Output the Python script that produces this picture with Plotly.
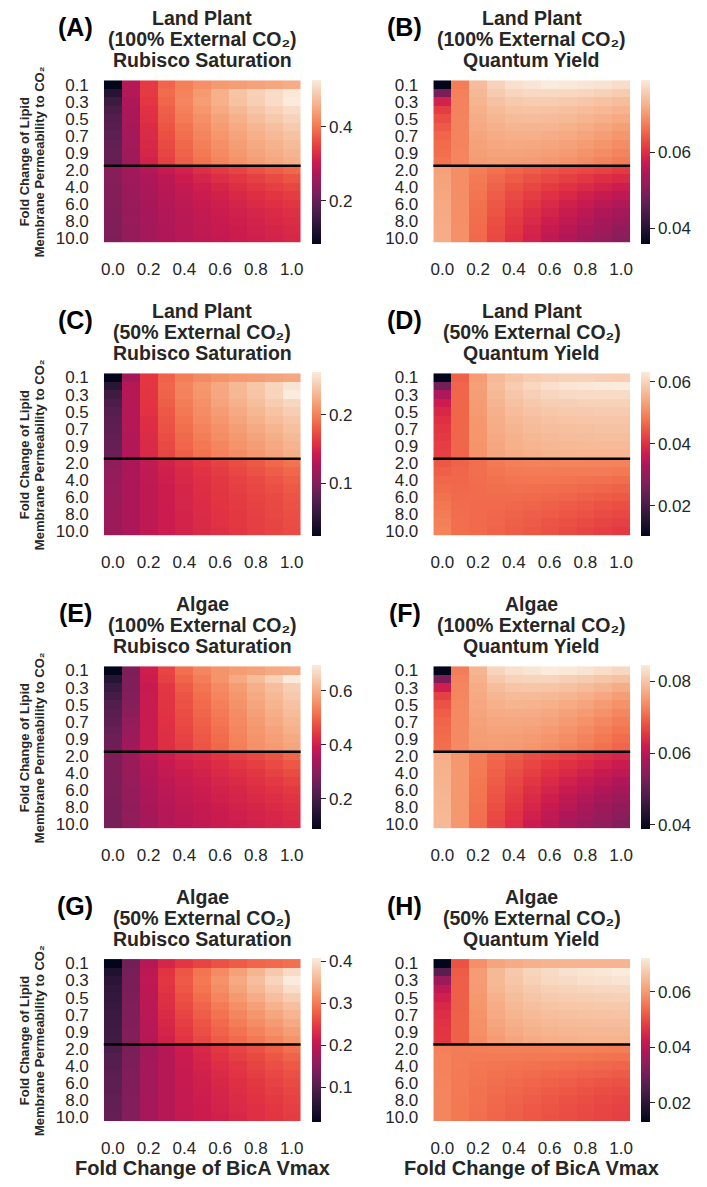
import plotly.graph_objects as go

# ---------------------------------------------------------------- data
bica_vmax = ["0.0", "0.1", "0.2", "0.3", "0.4", "0.5", "0.6", "0.7", "0.8", "0.9", "1.0"]
permeability = ["0.1", "0.2", "0.3", "0.4", "0.5", "0.6", "0.7", "0.8", "0.9", "1.0",
                "2.0", "3.0", "4.0", "5.0", "6.0", "7.0", "8.0", "9.0", "10.0"]
x_tick_labels = ["0.0", "0.2", "0.4", "0.6", "0.8", "1.0"]
y_tick_labels = ["0.1", "0.3", "0.5", "0.7", "0.9", "2.0", "4.0", "6.0", "8.0", "10.0"]

land_100_rubisco = [
    [0.084, 0.280, 0.345, 0.385, 0.410, 0.425, 0.435, 0.440, 0.445, 0.450, 0.456],
    [0.128, 0.280, 0.345, 0.390, 0.412, 0.435, 0.460, 0.483, 0.497, 0.510, 0.523],
    [0.155, 0.275, 0.340, 0.385, 0.415, 0.440, 0.460, 0.480, 0.495, 0.510, 0.527],
    [0.170, 0.272, 0.335, 0.380, 0.410, 0.432, 0.452, 0.470, 0.485, 0.498, 0.510],
    [0.180, 0.270, 0.332, 0.375, 0.405, 0.425, 0.445, 0.460, 0.475, 0.488, 0.500],
    [0.186, 0.268, 0.328, 0.370, 0.398, 0.420, 0.438, 0.452, 0.466, 0.478, 0.490],
    [0.190, 0.266, 0.325, 0.365, 0.393, 0.414, 0.432, 0.446, 0.459, 0.470, 0.480],
    [0.195, 0.264, 0.322, 0.360, 0.388, 0.408, 0.425, 0.440, 0.452, 0.462, 0.472],
    [0.198, 0.262, 0.318, 0.355, 0.383, 0.403, 0.420, 0.434, 0.446, 0.456, 0.465],
    [0.200, 0.260, 0.315, 0.350, 0.378, 0.398, 0.414, 0.428, 0.440, 0.450, 0.458],
    [0.235, 0.262, 0.280, 0.300, 0.315, 0.330, 0.343, 0.355, 0.367, 0.378, 0.388],
    [0.233, 0.258, 0.275, 0.290, 0.305, 0.318, 0.330, 0.340, 0.350, 0.360, 0.370],
    [0.231, 0.255, 0.272, 0.286, 0.298, 0.310, 0.320, 0.330, 0.340, 0.348, 0.356],
    [0.230, 0.253, 0.270, 0.283, 0.294, 0.305, 0.314, 0.322, 0.331, 0.339, 0.346],
    [0.229, 0.252, 0.268, 0.281, 0.291, 0.300, 0.309, 0.317, 0.325, 0.332, 0.339],
    [0.228, 0.251, 0.267, 0.279, 0.289, 0.298, 0.306, 0.313, 0.320, 0.327, 0.333],
    [0.227, 0.250, 0.266, 0.278, 0.287, 0.296, 0.303, 0.310, 0.316, 0.322, 0.328],
    [0.226, 0.249, 0.265, 0.277, 0.286, 0.294, 0.301, 0.307, 0.313, 0.319, 0.324],
    [0.225, 0.248, 0.264, 0.276, 0.285, 0.293, 0.299, 0.305, 0.311, 0.316, 0.321],
]

land_100_quantum = [
    [0.0360, 0.0674, 0.0738, 0.0764, 0.0777, 0.0784, 0.0790, 0.0787, 0.0784, 0.0780, 0.0775],
    [0.0493, 0.0678, 0.0734, 0.0755, 0.0766, 0.0770, 0.0771, 0.0769, 0.0766, 0.0762, 0.0757],
    [0.0584, 0.0680, 0.0730, 0.0745, 0.0753, 0.0756, 0.0756, 0.0753, 0.0749, 0.0744, 0.0739],
    [0.0614, 0.0680, 0.0725, 0.0737, 0.0744, 0.0746, 0.0745, 0.0742, 0.0738, 0.0733, 0.0727],
    [0.0631, 0.0681, 0.0721, 0.0731, 0.0736, 0.0738, 0.0737, 0.0734, 0.0729, 0.0723, 0.0717],
    [0.0643, 0.0681, 0.0717, 0.0725, 0.0729, 0.0730, 0.0729, 0.0725, 0.0720, 0.0714, 0.0707],
    [0.0652, 0.0681, 0.0713, 0.0720, 0.0723, 0.0723, 0.0721, 0.0717, 0.0712, 0.0705, 0.0698],
    [0.0657, 0.0681, 0.0710, 0.0715, 0.0717, 0.0716, 0.0714, 0.0710, 0.0704, 0.0697, 0.0689],
    [0.0661, 0.0682, 0.0707, 0.0711, 0.0711, 0.0710, 0.0707, 0.0702, 0.0696, 0.0689, 0.0681],
    [0.0665, 0.0682, 0.0704, 0.0707, 0.0706, 0.0704, 0.0700, 0.0695, 0.0689, 0.0681, 0.0672],
    [0.0708, 0.0690, 0.0675, 0.0663, 0.0653, 0.0645, 0.0638, 0.0631, 0.0625, 0.0619, 0.0612],
    [0.0711, 0.0690, 0.0671, 0.0656, 0.0644, 0.0634, 0.0625, 0.0616, 0.0608, 0.0600, 0.0593],
    [0.0713, 0.0690, 0.0668, 0.0650, 0.0636, 0.0624, 0.0613, 0.0603, 0.0594, 0.0585, 0.0577],
    [0.0715, 0.0690, 0.0665, 0.0645, 0.0629, 0.0615, 0.0603, 0.0592, 0.0581, 0.0571, 0.0562],
    [0.0717, 0.0691, 0.0663, 0.0641, 0.0623, 0.0607, 0.0594, 0.0581, 0.0570, 0.0559, 0.0549],
    [0.0718, 0.0691, 0.0661, 0.0637, 0.0617, 0.0600, 0.0586, 0.0572, 0.0560, 0.0548, 0.0537],
    [0.0719, 0.0691, 0.0659, 0.0633, 0.0612, 0.0594, 0.0578, 0.0564, 0.0551, 0.0538, 0.0527],
    [0.0720, 0.0692, 0.0657, 0.0630, 0.0607, 0.0588, 0.0571, 0.0556, 0.0542, 0.0529, 0.0517],
    [0.0721, 0.0692, 0.0656, 0.0627, 0.0603, 0.0583, 0.0565, 0.0549, 0.0534, 0.0521, 0.0509],
]

land_50_rubisco = [
    [0.022, 0.120, 0.161, 0.183, 0.197, 0.204, 0.209, 0.213, 0.215, 0.218, 0.220],
    [0.048, 0.130, 0.161, 0.185, 0.201, 0.212, 0.221, 0.231, 0.240, 0.249, 0.258],
    [0.063, 0.130, 0.160, 0.184, 0.200, 0.210, 0.220, 0.230, 0.238, 0.248, 0.262],
    [0.070, 0.130, 0.159, 0.182, 0.197, 0.208, 0.218, 0.226, 0.234, 0.243, 0.250],
    [0.075, 0.129, 0.158, 0.179, 0.195, 0.206, 0.214, 0.222, 0.230, 0.237, 0.244],
    [0.079, 0.129, 0.156, 0.177, 0.192, 0.203, 0.211, 0.219, 0.226, 0.233, 0.239],
    [0.081, 0.129, 0.155, 0.175, 0.190, 0.200, 0.208, 0.215, 0.222, 0.228, 0.235],
    [0.083, 0.128, 0.154, 0.173, 0.187, 0.197, 0.205, 0.212, 0.218, 0.224, 0.231],
    [0.085, 0.128, 0.153, 0.171, 0.185, 0.194, 0.202, 0.209, 0.215, 0.221, 0.227],
    [0.087, 0.128, 0.152, 0.169, 0.182, 0.192, 0.200, 0.206, 0.212, 0.218, 0.224],
    [0.108, 0.123, 0.137, 0.147, 0.154, 0.161, 0.167, 0.173, 0.179, 0.186, 0.192],
    [0.110, 0.123, 0.136, 0.145, 0.152, 0.158, 0.164, 0.170, 0.175, 0.181, 0.186],
    [0.111, 0.123, 0.136, 0.144, 0.151, 0.157, 0.162, 0.167, 0.172, 0.177, 0.182],
    [0.112, 0.123, 0.135, 0.143, 0.150, 0.156, 0.161, 0.165, 0.170, 0.174, 0.179],
    [0.113, 0.123, 0.135, 0.143, 0.149, 0.155, 0.160, 0.164, 0.168, 0.172, 0.177],
    [0.114, 0.123, 0.135, 0.142, 0.149, 0.154, 0.159, 0.163, 0.167, 0.171, 0.175],
    [0.115, 0.123, 0.135, 0.142, 0.148, 0.154, 0.158, 0.162, 0.166, 0.170, 0.174],
    [0.115, 0.123, 0.135, 0.142, 0.148, 0.153, 0.158, 0.162, 0.165, 0.169, 0.173],
    [0.116, 0.123, 0.135, 0.142, 0.148, 0.153, 0.157, 0.161, 0.165, 0.168, 0.172],
]

land_50_quantum = [
    [0.0100, 0.0455, 0.0524, 0.0561, 0.0577, 0.0588, 0.0593, 0.0595, 0.0595, 0.0593, 0.0590],
    [0.0254, 0.0460, 0.0529, 0.0566, 0.0588, 0.0604, 0.0614, 0.0622, 0.0625, 0.0628, 0.0630],
    [0.0328, 0.0461, 0.0527, 0.0561, 0.0580, 0.0593, 0.0601, 0.0606, 0.0609, 0.0609, 0.0609],
    [0.0365, 0.0461, 0.0524, 0.0556, 0.0572, 0.0582, 0.0590, 0.0593, 0.0596, 0.0596, 0.0596],
    [0.0385, 0.0461, 0.0521, 0.0551, 0.0566, 0.0575, 0.0581, 0.0584, 0.0586, 0.0587, 0.0587],
    [0.0397, 0.0461, 0.0519, 0.0547, 0.0561, 0.0569, 0.0574, 0.0577, 0.0579, 0.0580, 0.0580],
    [0.0405, 0.0461, 0.0517, 0.0544, 0.0556, 0.0564, 0.0568, 0.0571, 0.0573, 0.0574, 0.0574],
    [0.0410, 0.0461, 0.0516, 0.0541, 0.0552, 0.0559, 0.0563, 0.0566, 0.0567, 0.0568, 0.0568],
    [0.0415, 0.0461, 0.0514, 0.0538, 0.0549, 0.0555, 0.0559, 0.0561, 0.0562, 0.0563, 0.0563],
    [0.0418, 0.0460, 0.0513, 0.0535, 0.0545, 0.0551, 0.0554, 0.0556, 0.0557, 0.0557, 0.0557],
    [0.0445, 0.0458, 0.0471, 0.0482, 0.0489, 0.0492, 0.0494, 0.0495, 0.0495, 0.0495, 0.0494],
    [0.0455, 0.0460, 0.0470, 0.0478, 0.0483, 0.0485, 0.0486, 0.0486, 0.0485, 0.0484, 0.0482],
    [0.0462, 0.0462, 0.0469, 0.0474, 0.0477, 0.0478, 0.0477, 0.0476, 0.0474, 0.0472, 0.0469],
    [0.0468, 0.0464, 0.0468, 0.0471, 0.0472, 0.0471, 0.0469, 0.0467, 0.0464, 0.0461, 0.0457],
    [0.0474, 0.0466, 0.0467, 0.0468, 0.0467, 0.0465, 0.0462, 0.0459, 0.0455, 0.0451, 0.0447],
    [0.0480, 0.0467, 0.0466, 0.0465, 0.0462, 0.0459, 0.0455, 0.0451, 0.0446, 0.0441, 0.0436],
    [0.0485, 0.0469, 0.0466, 0.0462, 0.0458, 0.0454, 0.0449, 0.0444, 0.0438, 0.0432, 0.0427],
    [0.0490, 0.0470, 0.0465, 0.0460, 0.0455, 0.0449, 0.0443, 0.0437, 0.0431, 0.0424, 0.0418],
    [0.0494, 0.0471, 0.0465, 0.0458, 0.0452, 0.0445, 0.0438, 0.0431, 0.0424, 0.0417, 0.0411],
]

algae_100_rubisco = [
    [0.086, 0.280, 0.396, 0.457, 0.512, 0.542, 0.560, 0.572, 0.581, 0.591, 0.597],
    [0.147, 0.282, 0.390, 0.451, 0.500, 0.530, 0.560, 0.591, 0.621, 0.655, 0.694],
    [0.177, 0.282, 0.384, 0.439, 0.487, 0.518, 0.548, 0.572, 0.600, 0.624, 0.650],
    [0.195, 0.285, 0.385, 0.436, 0.480, 0.511, 0.540, 0.565, 0.592, 0.615, 0.640],
    [0.215, 0.290, 0.385, 0.434, 0.474, 0.505, 0.533, 0.558, 0.585, 0.607, 0.630],
    [0.225, 0.298, 0.385, 0.432, 0.469, 0.499, 0.526, 0.552, 0.578, 0.599, 0.621],
    [0.235, 0.306, 0.385, 0.430, 0.464, 0.493, 0.519, 0.546, 0.571, 0.591, 0.611],
    [0.245, 0.314, 0.385, 0.428, 0.459, 0.487, 0.512, 0.541, 0.565, 0.583, 0.602],
    [0.252, 0.322, 0.385, 0.426, 0.454, 0.482, 0.507, 0.537, 0.561, 0.576, 0.593],
    [0.258, 0.330, 0.385, 0.425, 0.450, 0.478, 0.503, 0.533, 0.557, 0.570, 0.585],
    [0.280, 0.320, 0.365, 0.390, 0.408, 0.417, 0.433, 0.450, 0.463, 0.480, 0.500],
    [0.279, 0.318, 0.359, 0.383, 0.399, 0.409, 0.423, 0.438, 0.450, 0.465, 0.482],
    [0.278, 0.316, 0.354, 0.377, 0.392, 0.402, 0.415, 0.428, 0.439, 0.452, 0.467],
    [0.277, 0.314, 0.349, 0.372, 0.386, 0.396, 0.408, 0.419, 0.430, 0.441, 0.454],
    [0.276, 0.312, 0.345, 0.367, 0.380, 0.391, 0.402, 0.412, 0.422, 0.432, 0.443],
    [0.274, 0.310, 0.342, 0.363, 0.375, 0.386, 0.397, 0.406, 0.415, 0.424, 0.434],
    [0.273, 0.308, 0.339, 0.360, 0.371, 0.382, 0.392, 0.401, 0.409, 0.417, 0.427],
    [0.271, 0.306, 0.337, 0.357, 0.368, 0.378, 0.388, 0.397, 0.404, 0.412, 0.421],
    [0.270, 0.305, 0.335, 0.355, 0.365, 0.375, 0.385, 0.393, 0.400, 0.408, 0.415],
]

algae_100_quantum = [
    [0.0387, 0.0721, 0.0780, 0.0817, 0.0830, 0.0837, 0.0844, 0.0840, 0.0835, 0.0828, 0.0821],
    [0.0529, 0.0727, 0.0775, 0.0803, 0.0814, 0.0817, 0.0817, 0.0812, 0.0807, 0.0801, 0.0794],
    [0.0620, 0.0730, 0.0771, 0.0789, 0.0798, 0.0800, 0.0798, 0.0794, 0.0787, 0.0780, 0.0771],
    [0.0661, 0.0731, 0.0767, 0.0781, 0.0787, 0.0788, 0.0785, 0.0780, 0.0773, 0.0765, 0.0755],
    [0.0679, 0.0732, 0.0764, 0.0775, 0.0779, 0.0778, 0.0775, 0.0769, 0.0761, 0.0752, 0.0742],
    [0.0690, 0.0733, 0.0761, 0.0769, 0.0771, 0.0770, 0.0766, 0.0759, 0.0751, 0.0742, 0.0731],
    [0.0697, 0.0733, 0.0758, 0.0764, 0.0765, 0.0763, 0.0758, 0.0751, 0.0742, 0.0732, 0.0721],
    [0.0701, 0.0733, 0.0756, 0.0760, 0.0760, 0.0757, 0.0751, 0.0743, 0.0734, 0.0724, 0.0713],
    [0.0704, 0.0734, 0.0754, 0.0756, 0.0755, 0.0751, 0.0745, 0.0737, 0.0727, 0.0716, 0.0705],
    [0.0707, 0.0734, 0.0752, 0.0753, 0.0751, 0.0746, 0.0739, 0.0731, 0.0721, 0.0710, 0.0698],
    [0.0771, 0.0748, 0.0721, 0.0702, 0.0689, 0.0675, 0.0666, 0.0657, 0.0648, 0.0638, 0.0629],
    [0.0774, 0.0748, 0.0719, 0.0697, 0.0682, 0.0667, 0.0655, 0.0645, 0.0635, 0.0624, 0.0614],
    [0.0776, 0.0748, 0.0717, 0.0693, 0.0675, 0.0659, 0.0645, 0.0634, 0.0623, 0.0611, 0.0600],
    [0.0778, 0.0748, 0.0715, 0.0689, 0.0669, 0.0651, 0.0636, 0.0623, 0.0611, 0.0599, 0.0587],
    [0.0780, 0.0748, 0.0713, 0.0685, 0.0663, 0.0644, 0.0627, 0.0613, 0.0600, 0.0587, 0.0575],
    [0.0781, 0.0748, 0.0711, 0.0681, 0.0657, 0.0637, 0.0619, 0.0603, 0.0589, 0.0576, 0.0564],
    [0.0782, 0.0748, 0.0710, 0.0677, 0.0652, 0.0630, 0.0611, 0.0594, 0.0580, 0.0566, 0.0553],
    [0.0784, 0.0748, 0.0708, 0.0673, 0.0647, 0.0623, 0.0604, 0.0586, 0.0572, 0.0558, 0.0545],
    [0.0785, 0.0748, 0.0707, 0.0670, 0.0643, 0.0616, 0.0597, 0.0579, 0.0565, 0.0552, 0.0538],
]

algae_50_rubisco = [
    [0.016, 0.129, 0.192, 0.223, 0.243, 0.254, 0.266, 0.274, 0.282, 0.286, 0.290],
    [0.047, 0.133, 0.198, 0.240, 0.270, 0.294, 0.314, 0.333, 0.352, 0.372, 0.390],
    [0.060, 0.136, 0.199, 0.242, 0.273, 0.298, 0.320, 0.341, 0.362, 0.384, 0.407],
    [0.066, 0.138, 0.198, 0.240, 0.270, 0.294, 0.315, 0.335, 0.354, 0.374, 0.394],
    [0.070, 0.140, 0.197, 0.236, 0.265, 0.288, 0.308, 0.326, 0.344, 0.362, 0.378],
    [0.074, 0.141, 0.196, 0.233, 0.260, 0.281, 0.300, 0.317, 0.333, 0.349, 0.364],
    [0.077, 0.142, 0.195, 0.229, 0.255, 0.275, 0.293, 0.309, 0.324, 0.338, 0.352],
    [0.079, 0.143, 0.194, 0.225, 0.249, 0.269, 0.286, 0.301, 0.315, 0.328, 0.341],
    [0.081, 0.144, 0.193, 0.222, 0.244, 0.263, 0.280, 0.293, 0.306, 0.318, 0.330],
    [0.082, 0.145, 0.192, 0.219, 0.239, 0.258, 0.274, 0.286, 0.298, 0.309, 0.321],
    [0.094, 0.137, 0.172, 0.192, 0.212, 0.227, 0.243, 0.254, 0.266, 0.278, 0.290],
    [0.099, 0.139, 0.173, 0.192, 0.210, 0.224, 0.238, 0.249, 0.259, 0.270, 0.280],
    [0.103, 0.140, 0.174, 0.192, 0.209, 0.221, 0.233, 0.243, 0.253, 0.263, 0.272],
    [0.107, 0.141, 0.174, 0.192, 0.208, 0.219, 0.230, 0.239, 0.248, 0.257, 0.265],
    [0.110, 0.142, 0.175, 0.192, 0.207, 0.217, 0.227, 0.236, 0.244, 0.252, 0.260],
    [0.112, 0.143, 0.175, 0.192, 0.206, 0.215, 0.224, 0.233, 0.241, 0.248, 0.256],
    [0.114, 0.144, 0.176, 0.192, 0.205, 0.214, 0.222, 0.231, 0.238, 0.245, 0.252],
    [0.116, 0.144, 0.176, 0.192, 0.205, 0.213, 0.221, 0.229, 0.236, 0.243, 0.249],
    [0.118, 0.145, 0.176, 0.192, 0.204, 0.212, 0.219, 0.227, 0.235, 0.241, 0.247],
]

algae_50_quantum = [
    [0.0130, 0.0508, 0.0584, 0.0614, 0.0623, 0.0632, 0.0634, 0.0637, 0.0637, 0.0637, 0.0637],
    [0.0266, 0.0520, 0.0602, 0.0643, 0.0667, 0.0685, 0.0696, 0.0705, 0.0711, 0.0714, 0.0720],
    [0.0360, 0.0522, 0.0602, 0.0643, 0.0664, 0.0679, 0.0691, 0.0696, 0.0702, 0.0705, 0.0708],
    [0.0407, 0.0523, 0.0600, 0.0638, 0.0657, 0.0670, 0.0679, 0.0684, 0.0688, 0.0690, 0.0692],
    [0.0433, 0.0524, 0.0597, 0.0632, 0.0650, 0.0661, 0.0669, 0.0673, 0.0676, 0.0678, 0.0679],
    [0.0448, 0.0524, 0.0594, 0.0626, 0.0643, 0.0653, 0.0660, 0.0664, 0.0666, 0.0668, 0.0668],
    [0.0458, 0.0525, 0.0591, 0.0620, 0.0636, 0.0645, 0.0651, 0.0655, 0.0657, 0.0658, 0.0659],
    [0.0465, 0.0525, 0.0587, 0.0614, 0.0629, 0.0638, 0.0643, 0.0646, 0.0648, 0.0649, 0.0650],
    [0.0469, 0.0525, 0.0584, 0.0608, 0.0622, 0.0630, 0.0635, 0.0638, 0.0640, 0.0641, 0.0641],
    [0.0472, 0.0525, 0.0580, 0.0602, 0.0614, 0.0623, 0.0628, 0.0632, 0.0634, 0.0634, 0.0634],
    [0.0565, 0.0560, 0.0560, 0.0562, 0.0564, 0.0565, 0.0565, 0.0565, 0.0564, 0.0562, 0.0560],
    [0.0567, 0.0559, 0.0556, 0.0556, 0.0556, 0.0555, 0.0554, 0.0553, 0.0551, 0.0548, 0.0545],
    [0.0568, 0.0558, 0.0553, 0.0550, 0.0548, 0.0546, 0.0543, 0.0540, 0.0537, 0.0534, 0.0530],
    [0.0569, 0.0557, 0.0551, 0.0546, 0.0542, 0.0538, 0.0534, 0.0530, 0.0526, 0.0522, 0.0518],
    [0.0570, 0.0556, 0.0549, 0.0542, 0.0537, 0.0531, 0.0526, 0.0521, 0.0516, 0.0511, 0.0507],
    [0.0571, 0.0556, 0.0547, 0.0539, 0.0532, 0.0526, 0.0520, 0.0514, 0.0508, 0.0502, 0.0498],
    [0.0572, 0.0555, 0.0545, 0.0536, 0.0528, 0.0521, 0.0514, 0.0508, 0.0502, 0.0496, 0.0491],
    [0.0573, 0.0555, 0.0544, 0.0533, 0.0525, 0.0517, 0.0510, 0.0503, 0.0497, 0.0491, 0.0486],
    [0.0573, 0.0555, 0.0543, 0.0531, 0.0522, 0.0514, 0.0508, 0.0502, 0.0496, 0.0490, 0.0484],
]

panel_letters = ["(A)", "(B)", "(C)", "(D)", "(E)", "(F)", "(G)", "(H)"]
organisms = ["Land Plant", "Land Plant", "Land Plant", "Land Plant",
             "Algae", "Algae", "Algae", "Algae"]
co2_levels = ["100%", "100%", "50%", "50%", "100%", "100%", "50%", "50%"]
metrics = ["Rubisco Saturation", "Quantum Yield"] * 4
colorbar_dticks = [0.2, 0.02, 0.1, 0.02, 0.2, 0.02, 0.1, 0.02]
colorbar_formats = [".1f", ".2f", ".1f", ".2f", ".1f", ".2f", ".1f", ".2f"]
panel_values = [land_100_rubisco, land_100_quantum, land_50_rubisco, land_50_quantum,
                algae_100_rubisco, algae_100_quantum, algae_50_rubisco, algae_50_quantum]

# ---------------------------------------------------------------- style
ROCKET = [
    [0.000, "#03051a"], [0.071, "#1c102e"], [0.143, "#35193e"], [0.214, "#521e4d"],
    [0.286, "#701f57"], [0.357, "#8f1d5b"], [0.429, "#ad1759"], [0.500, "#cb1b4f"],
    [0.571, "#e13342"], [0.643, "#ec5344"], [0.714, "#f37651"], [0.786, "#f5966d"],
    [0.857, "#f6b48f"], [0.929, "#f7cfb5"], [1.000, "#faebdd"],
]
FONT = "Liberation Sans, Arial, sans-serif"
INK = "#262626"

W, H = 707, 1187
COL_LEFT = [101.7, 434.0]              # heatmap left edge (px) per column
MAP_W = 198.5                           # heatmap width (px)
ROW_TOP = [76.0, 371.7, 667.4, 963.0]  # heatmap top edge (px) per row
MAP_H = 164.0                           # heatmap height (px)
CBAR_GAP = 11.0                         # heatmap right edge -> colorbar


def px_x(v):
    return v / W


def px_y(v):
    return 1 - v / H


fig = go.Figure()
annotations = []
shapes = []

# horizontal divider between permeabilities <= 1 and > 1
n_low = sum(1 for p in permeability if float(p) <= 1.0)
divider = n_low - 0.5

for i, z in enumerate(panel_values):
    r, c = i // 2, i % 2
    k = i + 1
    xa = "x" if k == 1 else f"x{k}"
    ya = "y" if k == 1 else f"y{k}"
    x0 = COL_LEFT[c]
    x1 = x0 + MAP_W
    y0 = ROW_TOP[r]
    y1 = y0 + MAP_H

    fig.add_trace(go.Heatmap(
        z=z, x=bica_vmax, y=permeability, xaxis=xa, yaxis=ya,
        colorscale=ROCKET,
        colorbar=dict(
            x=px_x(x1 + CBAR_GAP), xanchor="left", xpad=0,
            y=px_y((y0 + y1) / 2), yanchor="middle", ypad=0,
            len=MAP_H, lenmode="pixels", thickness=9, thicknessmode="pixels",
            outlinewidth=0, ticks="outside", ticklen=5, tickwidth=1.3,
            tickcolor=INK, tick0=0, dtick=colorbar_dticks[i],
            tickformat=colorbar_formats[i],
            tickfont=dict(family=FONT, size=17, color=INK),
        ),
        hovertemplate="BicA %{x}<br>Permeability %{y}<br>%{z}<extra></extra>",
    ))

    fig.layout[("xaxis" if k == 1 else f"xaxis{k}")] = dict(
        domain=[px_x(x0), px_x(x1)], anchor=ya, type="category",
        tickmode="array", tickvals=x_tick_labels, ticktext=x_tick_labels,
        ticks="", ticklabelstandoff=14, showgrid=False, zeroline=False, showline=False,
        tickfont=dict(family=FONT, size=17, color=INK), fixedrange=True,
    )
    fig.layout[("yaxis" if k == 1 else f"yaxis{k}")] = dict(
        domain=[px_y(y1), px_y(y0)], anchor=xa, type="category", autorange="reversed",
        tickmode="array", tickvals=y_tick_labels, ticktext=y_tick_labels,
        ticks="", ticklabelstandoff=14, showgrid=False, zeroline=False, showline=False,
        tickfont=dict(family=FONT, size=17, color=INK), fixedrange=True,
    )

    shapes.append(dict(
        type="line", xref=f"{xa} domain", yref=ya, x0=0, x1=1, y0=divider, y1=divider,
        line=dict(color="black", width=2.5),
    ))

    # three-line panel title
    cx = px_x((x0 + x1) / 2)
    title_lines = [
        f"<b>{organisms[i]}</b>",
        f"<b>({co2_levels[i]} External CO\u2082)</b>",
        f"<b>{metrics[i]}</b>",
    ]
    for j, line in enumerate(title_lines):
        annotations.append(dict(
            text=line, x=cx, y=px_y(y0 - 63 + 21.5 * j), xref="paper", yref="paper",
            xanchor="center", yanchor="middle", showarrow=False,
            font=dict(family=FONT, size=19.5, color=INK),
        ))
    annotations.append(dict(
        text=f"<b>{panel_letters[i]}</b>", x=px_x(x0 - 29), y=px_y(y0 - 54),
        xref="paper", yref="paper", xanchor="center", yanchor="middle", showarrow=False,
        font=dict(family=FONT, size=25, color="black"),
    ))

    if c == 0:
        cy = px_y((y0 + y1) / 2)
        for xpos, line in [(22, "<b>Fold Change of Lipid</b>"),
                           (37, "<b>Membrane Permeability to CO\u2082</b>")]:
            annotations.append(dict(
                text=line, x=px_x(xpos), y=cy, xref="paper", yref="paper",
                xanchor="center", yanchor="middle", textangle=-90, showarrow=False,
                font=dict(family=FONT, size=13, color=INK),
            ))
    if r == 3:
        annotations.append(dict(
            text="<b>Fold Change of BicA Vmax</b>", x=px_x((x0 + x1) / 2), y=px_y(1174),
            xref="paper", yref="paper", xanchor="center", yanchor="middle", showarrow=False,
            font=dict(family=FONT, size=20, color=INK),
        ))

fig.update_layout(
    width=W, height=H, margin=dict(l=0, r=0, t=0, b=0),
    paper_bgcolor="white", plot_bgcolor="white",
    annotations=annotations, shapes=shapes, showlegend=False,
)

fig.write_html("out.html")
